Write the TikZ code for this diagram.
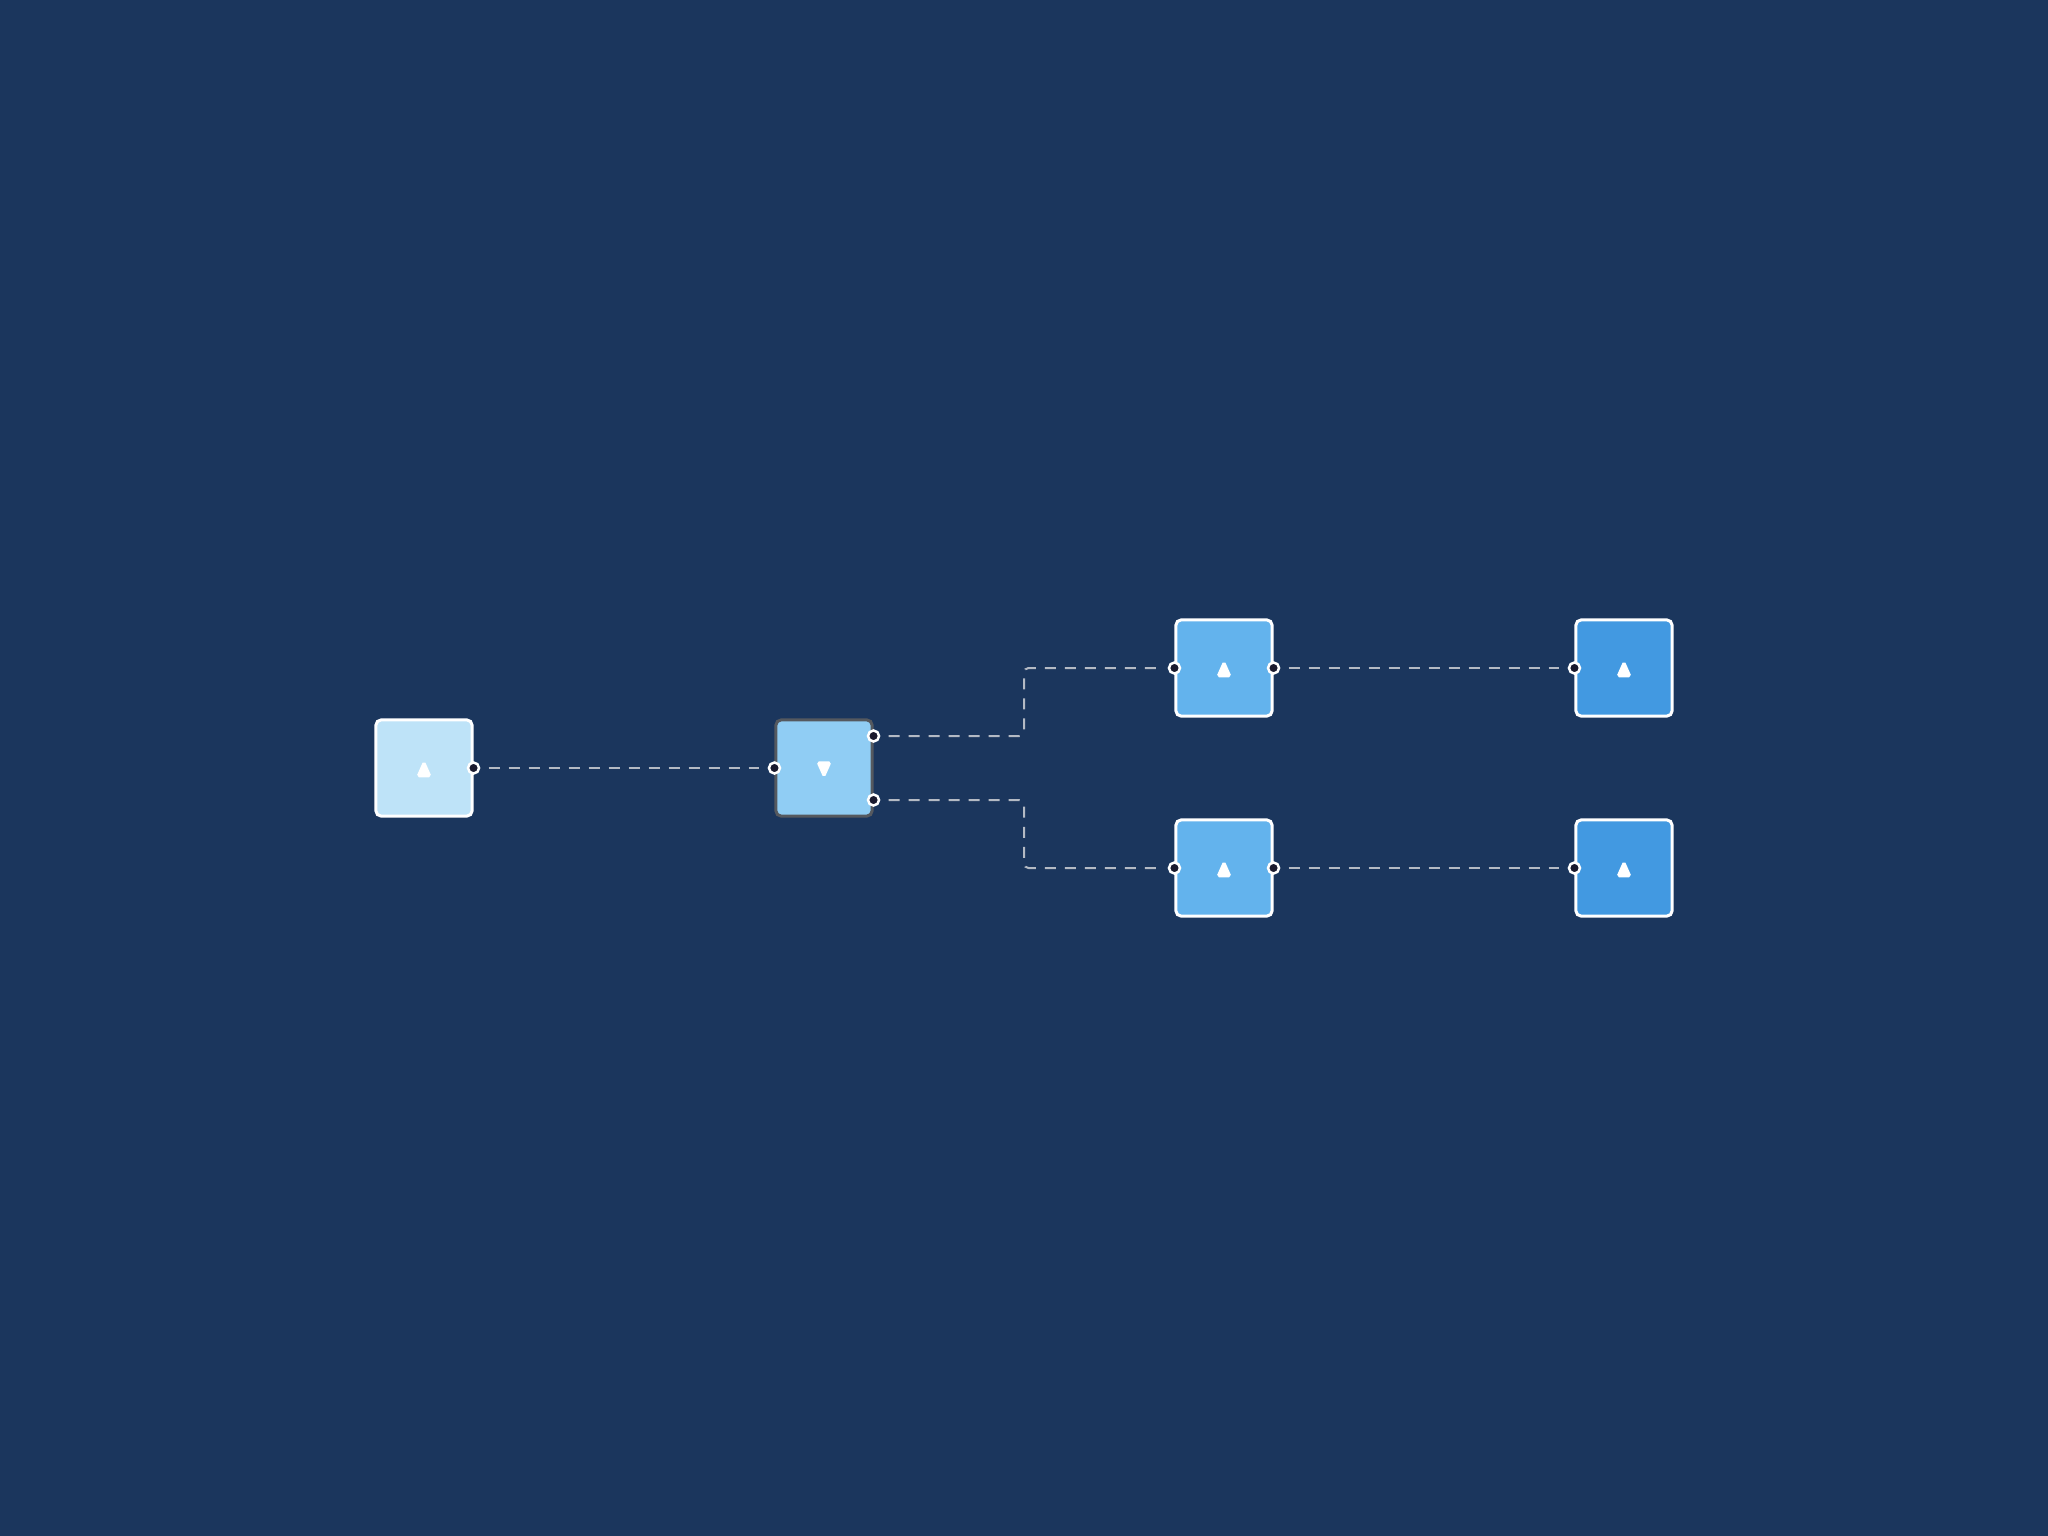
\documentclass[tikz,border=0pt]{standalone}
\usetikzlibrary{calc}
\definecolor{bgnavy}{HTML}{1B365D}
\definecolor{boxA}{HTML}{BEE3F8}
\definecolor{boxB}{HTML}{90CDF4}
\definecolor{boxC}{HTML}{63B3ED}
\definecolor{boxD}{HTML}{4299E1}
\definecolor{portdark}{HTML}{1A1A2E}
\definecolor{linkgray}{HTML}{B4BAC4}
\definecolor{edgegray}{HTML}{55595F}
\begin{document}
\begin{tikzpicture}[x=0.01cm,y=-0.01cm,
  box/.style={draw=white,line width=0.03cm,rounded corners=0.05cm,minimum size=0.96cm,inner sep=0pt},
  port/.style={circle,draw=white,fill=portdark,line width=0.025cm,minimum size=0.11cm,inner sep=0pt},
  link/.style={draw=linkgray,line width=0.02cm,dash pattern=on 0.11cm off 0.09cm,rounded corners=0.045cm,shorten <=0.15cm,shorten >=0.15cm},
  tri up/.pic={\filldraw[white,line width=0.025cm,rounded corners=0.015cm] (-6,8) -- (6,8) -- (0,-5.5) -- cycle;},
  tri down/.pic={\filldraw[white,line width=0.025cm,rounded corners=0.015cm] (-6,-5.5) -- (6,-5.5) -- (0,8) -- cycle;}]
\fill[bgnavy] (0,0) rectangle (2048,1536);
\node[box,fill=boxA] (src) at (424,768) {};
\node[box,fill=boxB,draw=edgegray] (split) at (824,768) {};
\node[box,fill=boxC] (top) at (1224,668) {};
\node[box,fill=boxC] (bot) at (1224,868) {};
\node[box,fill=boxD] (topend) at (1624,668) {};
\node[box,fill=boxD] (botend) at (1624,868) {};
\pic at (src) {tri up};
\pic at (split) {tri down};
\pic at (top) {tri up};
\pic at (bot) {tri up};
\pic at (topend) {tri up};
\pic at (botend) {tri up};
\draw[link] (src.east) -- (split.west);
\draw[link] ($(split.east)+(0,-32)$) -| ($(split.east)!.5!(top.west)$) |- (top.west);
\draw[link] ($(split.east)+(0,32)$) -| ($(split.east)!.5!(bot.west)$) |- (bot.west);
\draw[link] (top.east) -- (topend.west);
\draw[link] (bot.east) -- (botend.west);
\node[port] (src-out) at (src.east) {};
\node[port] (split-in) at (split.west) {};
\node[port] (split-o1) at ($(split.east)+(0,-32)$) {};
\node[port] (split-o2) at ($(split.east)+(0,32)$) {};
\node[port] (top-in) at (top.west) {};
\node[port] (top-out) at (top.east) {};
\node[port] (bot-in) at (bot.west) {};
\node[port] (bot-out) at (bot.east) {};
\node[port] (topend-in) at (topend.west) {};
\node[port] (botend-in) at (botend.west) {};
\end{tikzpicture}
\end{document}
